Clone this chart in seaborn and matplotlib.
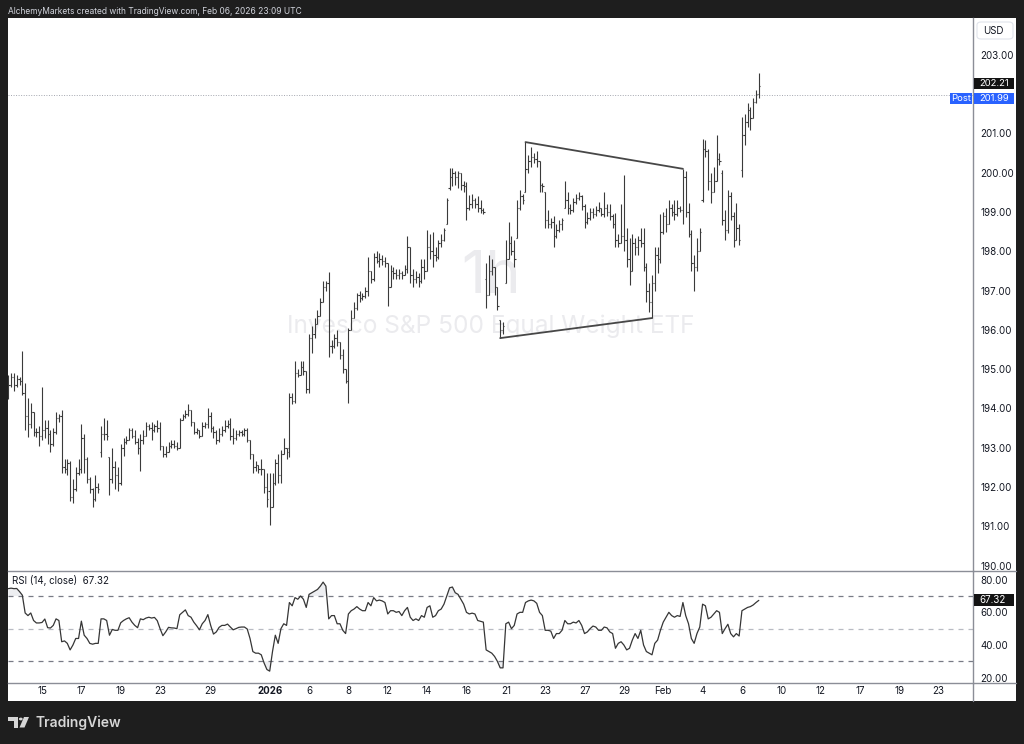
import numpy as np
import matplotlib
matplotlib.use("Agg")
import matplotlib.pyplot as plt
import seaborn as sns
from matplotlib.patches import Rectangle, FancyBboxPatch, Circle, Polygon
from matplotlib.lines import Line2D

# ---------------- data (hourly bars; bar 0 = Dec 15 09:30) ----------------
first_bar = -12

opens = [
    194.70, 194.60, 194.80, 194.60, 194.75,                      # Dec 11
    194.70, 194.40, 193.80, 193.60, 193.90, 193.40, 193.40,      # Dec 12
    193.30, 193.45, 193.50, 193.35, 193.10, 193.40, 193.75,      # Dec 15
    193.80, 192.50, 192.45, 192.60, 191.75, 191.95, 192.35,      # Dec 16
    192.45, 193.25, 192.70, 192.20, 191.95, 191.70, 192.00,      # Dec 17
    192.90, 193.35, 193.35, 192.75, 192.20, 192.50, 192.30,      # Dec 18
    192.10, 193.00, 193.15, 193.20, 193.45, 193.30, 193.15,      # Dec 19
    193.00, 193.20, 193.30, 193.55, 193.50, 193.45, 193.55,      # Dec 22
    193.50, 193.05, 192.85, 192.90, 193.05, 193.10, 193.05,      # Dec 23
    193.00, 193.70, 193.80, 193.85,                              # Dec 24
    193.95, 193.65, 193.40, 193.45, 193.30, 193.55, 193.60,      # Dec 26
    193.80, 193.50, 193.40, 193.20, 193.35, 193.45, 193.55,      # Dec 29
    193.60, 193.30, 193.25, 193.35, 193.40, 193.35, 193.45,      # Dec 30
    193.20, 192.85, 192.50, 192.55, 192.45, 192.45, 192.00,      # Dec 31
    191.90, 191.50, 192.10, 192.60, 192.30, 192.85, 193.00,      # Jan 2
    193.00, 194.30, 194.20, 194.90, 194.85, 195.05, 194.95,      # Jan 5
    194.50, 195.80, 195.90, 196.15, 196.35, 196.70, 197.10,      # Jan 6
    197.20, 195.60, 195.60, 195.80, 195.70, 195.35, 195.00,      # Jan 7
    194.70, 196.00, 196.30, 196.55, 196.90, 196.80, 196.85,      # Jan 8
    197.00, 197.50, 197.30, 197.85, 197.75, 197.80, 197.75,      # Jan 9
    197.70, 197.10, 197.50, 197.45, 197.40, 197.45, 197.40,      # Jan 12
    197.55, 198.10, 197.40, 197.30, 197.35, 197.25, 197.60,      # Jan 13
    197.50, 198.10, 198.00, 197.90, 197.85, 198.20, 198.30,      # Jan 14
    198.70, 199.60, 199.90, 200.00, 199.90, 200.00, 199.70,      # Jan 15
    199.65, 199.10, 199.20, 199.30, 199.20, 199.10, 199.05,      # Jan 16
    197.30, 196.90, 197.50, 197.60, 197.10, 196.25, 196.00,      # Jan 20
    197.20, 197.80, 198.20, 198.00, 198.35, 199.10, 199.40,      # Jan 21
    199.50, 200.10, 200.30, 200.40, 200.35, 200.30, 199.70,      # Jan 22
    199.50, 198.80, 198.70, 198.75, 198.40, 198.55, 198.70,      # Jan 23
    199.10, 199.30, 199.10, 199.05, 199.25, 199.35, 199.40,      # Jan 26
    199.15, 198.75, 198.85, 199.00, 198.95, 199.05, 199.10,      # Jan 27
    198.95, 199.10, 199.00, 198.90, 198.70, 198.30, 198.20,      # Jan 28
    198.40, 198.30, 197.80, 197.50, 198.20, 198.10, 198.30,      # Jan 29
    198.20, 197.60, 197.00, 196.70, 197.20, 197.90, 197.80,      # Jan 30
    198.50, 198.90, 198.70, 199.10, 199.00, 198.95, 199.10,      # Feb 2
    199.05, 199.90, 199.00, 198.45, 197.70, 197.60, 198.00,      # Feb 3
    199.30, 200.60, 200.55, 199.80, 199.50, 199.80, 200.35,      # Feb 4
    200.00, 198.80, 198.55, 199.40, 198.90, 198.30, 198.60,      # Feb 5
    200.07, 200.95, 201.30, 201.60, 201.40, 201.80, 202.00,      # Feb 6
]

highs = [
    194.85, 194.90, 194.90, 194.85, 194.80,
    195.45, 194.65, 194.27, 194.14, 193.90, 193.50, 193.55,
    194.55, 193.70, 193.70, 193.45, 193.50, 193.90, 193.85,
    193.95, 192.70, 192.70, 192.65, 192.20, 192.50, 192.70,
    193.60, 193.35, 192.75, 192.25, 191.97, 192.30, 192.10,
    193.55, 193.75, 193.70, 192.75, 193.00, 192.65, 192.50,
    193.10, 193.25, 193.30, 193.50, 193.50, 193.45, 193.25,
    193.35, 193.45, 193.65, 193.60, 193.65, 193.60, 193.70,
    193.65, 193.05, 193.05, 193.15, 193.20, 193.20, 193.15,
    193.75, 193.85, 193.95, 194.10,
    193.95, 193.65, 193.50, 193.45, 193.65, 193.65, 194.00,
    193.90, 193.55, 193.45, 193.50, 193.55, 193.70, 193.70,
    193.75, 193.50, 193.45, 193.45, 193.45, 193.50, 193.50,
    193.20, 192.85, 192.65, 192.55, 192.70, 192.45, 192.35,
    192.35, 192.35, 192.70, 192.85, 192.95, 193.25, 193.00,
    194.40, 194.40, 195.20, 195.00, 195.20, 195.20, 194.95,
    195.90, 196.10, 196.30, 196.50, 196.80, 197.25, 197.25,
    197.47, 195.75, 195.90, 196.00, 195.70, 195.50, 195.00,
    196.05, 196.50, 196.70, 196.95, 197.00, 196.95, 197.10,
    197.85, 197.50, 197.95, 198.00, 197.95, 197.90, 197.85,
    197.70, 197.65, 197.60, 197.55, 197.55, 197.50, 197.65,
    198.40, 198.10, 197.55, 197.50, 197.45, 197.80, 197.80,
    198.55, 198.45, 198.50, 198.10, 198.30, 198.45, 198.60,
    199.35, 200.12, 200.12, 200.05, 200.05, 200.00, 199.80,
    199.76, 199.43, 199.45, 199.35, 199.40, 199.30, 199.10,
    197.70, 197.90, 197.80, 197.60, 197.10, 196.25, 196.20,
    198.30, 198.75, 198.40, 198.30, 199.30, 199.55, 199.45,
    200.78, 200.45, 200.65, 200.50, 200.55, 200.30, 199.75,
    199.50, 199.05, 198.85, 198.90, 198.70, 198.80, 198.85,
    199.80, 199.50, 199.20, 199.35, 199.45, 199.50, 199.43,
    199.20, 199.00, 199.10, 199.10, 199.15, 199.25, 199.10,
    199.50, 199.20, 199.20, 198.95, 198.97, 198.45, 199.20,
    199.95, 198.60, 198.35, 198.45, 198.35, 198.40, 198.60,
    198.60, 197.70, 197.20, 197.40, 198.10, 198.10, 198.95,
    199.00, 199.10, 199.30, 199.20, 199.30, 199.30, 199.15,
    200.10, 200.05, 199.23, 198.55, 197.90, 198.35, 198.60,
    200.85, 200.84, 200.60, 200.00, 200.15, 200.97, 200.50,
    200.07, 199.05, 199.56, 199.50, 199.00, 199.23, 198.70,
    201.42, 201.50, 201.78, 201.67, 201.90, 202.10, 202.54,
]

lows = [
    194.25, 194.55, 194.45, 194.55, 194.60,
    194.35, 193.45, 193.27, 193.50, 193.30, 193.27, 193.05,
    193.20, 193.25, 193.10, 192.90, 193.05, 193.35, 193.65,
    192.35, 192.35, 192.30, 191.65, 191.60, 191.90, 192.30,
    192.35, 192.35, 192.10, 191.85, 191.50, 191.65, 191.85,
    192.75, 193.20, 193.20, 191.80, 192.10, 191.95, 191.90,
    192.05, 192.80, 193.10, 193.20, 193.25, 193.10, 192.85,
    192.40, 193.10, 193.30, 193.45, 193.20, 193.40, 193.40,
    192.95, 192.75, 192.75, 192.88, 193.00, 193.00, 192.95,
    193.00, 193.70, 193.75, 193.80,
    193.55, 193.35, 193.35, 193.25, 193.30, 193.50, 193.50,
    193.40, 193.25, 193.10, 193.15, 193.30, 193.40, 193.50,
    193.20, 193.10, 193.20, 193.30, 193.30, 193.30, 193.15,
    192.70, 192.35, 192.40, 192.35, 192.30, 191.85, 191.50,
    191.03, 191.50, 192.05, 192.10, 192.10, 192.85, 192.70,
    192.75, 194.10, 194.15, 194.80, 194.85, 194.85, 194.40,
    194.40, 195.40, 195.80, 196.15, 196.35, 196.70, 197.00,
    195.30, 195.40, 195.55, 195.60, 195.25, 194.90, 194.65,
    194.15, 196.00, 196.30, 196.50, 196.70, 196.75, 196.80,
    196.85, 197.20, 197.25, 197.70, 197.60, 197.65, 197.60,
    196.60, 197.10, 197.30, 197.30, 197.30, 197.30, 197.40,
    197.45, 197.20, 197.10, 197.20, 197.10, 197.20, 197.30,
    197.50, 197.80, 197.60, 197.75, 197.80, 198.10, 198.25,
    198.70, 199.56, 199.65, 199.70, 199.60, 199.56, 199.50,
    198.80, 199.05, 199.10, 199.10, 199.00, 198.97, 198.95,
    196.55, 196.90, 197.40, 196.90, 196.50, 195.79, 195.90,
    197.19, 197.80, 197.90, 197.60, 198.35, 199.05, 199.20,
    199.50, 200.00, 200.15, 200.25, 200.15, 199.50, 199.50,
    198.60, 198.60, 198.60, 198.10, 198.35, 198.50, 198.55,
    199.10, 198.95, 198.95, 199.00, 199.20, 199.30, 199.05,
    198.60, 198.70, 198.80, 198.85, 198.90, 199.00, 198.90,
    198.87, 198.90, 198.80, 198.60, 198.10, 198.10, 198.20,
    198.00, 197.60, 197.15, 197.50, 197.90, 197.90, 198.10,
    197.50, 196.70, 196.45, 196.30, 197.00, 197.45, 197.70,
    198.45, 198.50, 198.70, 198.90, 198.80, 198.90, 199.00,
    198.70, 198.87, 198.37, 197.50, 197.00, 197.50, 198.00,
    199.25, 200.40, 199.55, 199.23, 199.50, 199.80, 200.20,
    198.67, 198.30, 198.47, 198.80, 198.10, 198.30, 198.15,
    199.90, 200.70, 201.17, 201.10, 201.40, 201.78, 201.90,
]

closes = [
    194.60, 194.80, 194.60, 194.75, 194.70,
    194.40, 193.80, 193.60, 193.90, 193.40, 193.40, 193.30,
    193.45, 193.50, 193.35, 193.10, 193.40, 193.75, 193.80,
    192.50, 192.45, 192.60, 191.75, 191.95, 192.35, 192.45,
    193.25, 192.70, 192.20, 191.95, 191.70, 192.00, 191.95,
    193.35, 193.35, 193.30, 192.20, 192.50, 192.30, 192.10,
    193.00, 193.15, 193.20, 193.45, 193.30, 193.15, 193.00,
    193.20, 193.30, 193.55, 193.50, 193.45, 193.55, 193.50,
    193.05, 192.85, 192.90, 193.05, 193.10, 193.05, 193.00,
    193.70, 193.80, 193.85, 193.95,
    193.65, 193.40, 193.45, 193.30, 193.55, 193.60, 193.80,
    193.50, 193.40, 193.20, 193.35, 193.45, 193.55, 193.60,
    193.30, 193.25, 193.35, 193.40, 193.35, 193.45, 193.20,
    192.85, 192.50, 192.55, 192.45, 192.45, 192.00, 191.70,
    191.50, 192.10, 192.60, 192.30, 192.85, 193.00, 192.90,
    194.30, 194.20, 194.90, 194.85, 195.05, 194.95, 194.50,
    195.80, 195.90, 196.15, 196.35, 196.70, 197.10, 197.20,
    195.60, 195.60, 195.80, 195.70, 195.35, 195.00, 194.70,
    196.00, 196.30, 196.55, 196.90, 196.80, 196.85, 197.00,
    197.50, 197.30, 197.85, 197.75, 197.80, 197.75, 197.70,
    197.10, 197.50, 197.45, 197.40, 197.45, 197.40, 197.55,
    198.10, 197.40, 197.30, 197.35, 197.25, 197.60, 197.50,
    198.10, 198.00, 197.90, 197.85, 198.20, 198.30, 198.55,
    199.30, 199.90, 200.00, 199.90, 200.00, 199.70, 199.65,
    199.10, 199.20, 199.30, 199.20, 199.10, 199.05, 199.00,
    196.90, 197.50, 197.60, 197.10, 196.60, 196.00, 196.10,
    197.80, 198.20, 198.00, 197.80, 199.10, 199.40, 199.30,
    200.10, 200.30, 200.40, 200.35, 200.30, 199.70, 199.65,
    198.80, 198.70, 198.75, 198.40, 198.55, 198.70, 198.80,
    199.30, 199.10, 199.05, 199.25, 199.35, 199.40, 199.15,
    198.75, 198.85, 199.00, 198.95, 199.05, 199.10, 198.95,
    199.10, 199.00, 198.90, 198.70, 198.30, 198.20, 198.40,
    198.30, 197.80, 197.50, 198.20, 198.10, 198.30, 198.20,
    197.60, 197.00, 196.70, 197.20, 197.90, 197.80, 198.50,
    198.90, 198.70, 199.10, 199.00, 198.95, 199.10, 199.05,
    199.90, 199.00, 198.45, 197.70, 197.60, 198.00, 198.50,
    200.60, 200.55, 199.80, 199.50, 199.80, 200.35, 200.30,
    198.80, 198.55, 199.40, 198.90, 198.30, 198.60, 198.30,
    200.95, 201.30, 201.60, 201.40, 201.80, 202.00, 202.21,
]

rsi = [
    74.5, 74.8, 74.5, 74.6, 72.7,
    70.5, 59.6, 58.0, 59.6, 55.0, 53.5, 53.5,
    53.8, 55.9, 50.6, 50.4, 52.0, 56.0, 55.0,
    42.0, 42.5, 41.0, 37.0, 40.0, 44.0, 44.0,
    54.6, 46.0, 44.0, 41.0, 40.5, 41.0, 41.0,
    56.0, 56.0, 55.0, 46.0, 49.5, 49.0, 49.0,
    53.6, 55.0, 56.0, 56.7, 54.0, 52.0, 50.6,
    56.0, 55.5, 56.5, 57.0, 56.5, 56.9, 54.9,
    50.0, 45.7, 48.0, 50.8, 50.5, 50.4, 50.0,
    58.5, 60.0, 61.5, 58.0,
    57.0, 54.0, 51.8, 49.3, 53.0, 55.0, 58.6,
    52.0, 46.7, 48.0, 50.8, 52.0, 52.0, 52.8,
    51.0, 49.3, 50.0, 50.8, 51.0, 51.0, 49.8,
    44.0, 36.0, 35.0, 35.0, 34.0, 29.0, 25.0,
    24.0, 36.0, 46.0, 41.0, 50.0, 53.0, 52.0,
    66.0, 64.0, 69.0, 68.0, 70.0, 68.0, 63.0,
    71.0, 72.0, 73.0, 74.0, 76.0, 78.5, 76.0,
    56.0, 58.0, 58.0, 53.0, 53.0, 49.0, 47.0,
    59.0, 61.0, 62.0, 63.5, 62.0, 61.0, 61.0,
    66.0, 64.0, 69.0, 67.0, 67.5, 67.0, 66.0,
    59.0, 61.0, 61.0, 60.0, 60.5, 58.0, 61.0,
    63.0, 57.0, 55.0, 56.0, 55.0, 58.0, 57.0,
    63.0, 64.0, 57.0, 58.0, 61.0, 62.0, 65.0,
    70.0, 75.0, 75.5, 72.0, 71.0, 68.0, 65.0,
    60.0, 59.0, 59.5, 59.0, 55.0, 54.5, 54.0,
    37.0, 36.0, 35.0, 33.0, 30.0, 26.0, 26.0,
    53.0, 54.0, 50.0, 52.0, 59.0, 60.0, 60.0,
    66.0, 67.0, 67.5, 67.0, 65.5, 60.0, 58.0,
    49.0, 49.0, 48.5, 44.0, 47.0, 47.0, 49.0,
    55.0, 53.0, 53.0, 54.0, 53.5, 55.0, 52.0,
    47.0, 48.0, 50.0, 51.6, 51.0, 49.0, 49.0,
    51.0, 50.5, 48.0, 47.0, 38.0, 41.0, 42.0,
    40.0, 37.0, 38.0, 43.0, 47.0, 44.0, 49.0,
    40.0, 36.0, 35.0, 34.0, 41.0, 43.0, 49.0,
    54.0, 57.0, 60.0, 58.0, 57.0, 58.0, 57.5,
    66.0, 58.0, 53.0, 44.0, 41.0, 47.0, 51.0,
    65.0, 64.0, 56.0, 57.0, 59.0, 61.0, 60.0,
    47.0, 50.0, 52.7, 47.0, 45.0, 47.0, 45.5,
    61.0, 62.0, 63.0, 63.5, 64.5, 66.0, 67.32,
]

tick_bars = [0, 14, 28, 42, 60, 81, 95, 109, 123, 137, 151, 165, 179,
             193, 207, 221, 235, 249, 263, 277, 291, 305, 319]
tick_labels = ["15", "17", "19", "23", "29", "2026", "6", "8", "12", "14", "16",
               "21", "23", "27", "29", "Feb", "4", "6", "10", "12", "17", "19", "23"]

wedge_upper_bars = [172, 228]
wedge_upper_prices = [200.78, 200.10]
wedge_lower_bars = [163, 217]
wedge_lower_prices = [195.79, 196.30]

# 202.00 is hidden behind the last-price / post-market labels, as in TradingView
price_ticks = [190, 191, 192, 193, 194, 195, 196, 197, 198, 199, 200, 201, 203]
rsi_ticks = [20, 40, 60, 80]
rsi_upper, rsi_mid, rsi_lower = 70, 50, 30
last_price = 202.21
post_price = 201.99
last_rsi = 67.32
currency = "USD"
symbol_name = "Invesco S&P 500 Equal Weight ETF"
interval = "1h"
header = "AlchemyMarkets created with TradingView.com, Feb 06, 2026 23:09 UTC"
rsi_title = "RSI (14, close)"

# ---------------- figure ----------------
W, H = 1024, 744
sns.set_theme(style="white")
plt.rcParams["font.family"] = ["Inter", "DejaVu Sans"]

fig = plt.figure(figsize=(W / 100, H / 100), dpi=100, facecolor="#1e1e1e")


def fx(px):
    return px / W


def fy(py):
    return 1 - py / H


def frect(x0, y0, x1, y1, **kw):
    r = Rectangle((fx(x0), fy(y1)), (x1 - x0) / W, (y1 - y0) / H,
                  transform=fig.transFigure, **kw)
    fig.add_artist(r)
    return r


frect(8, 18, 1016, 701, facecolor="white", edgecolor="none", zorder=-5)

PL, PR, PT, PB, RB = 8, 973, 18, 571, 683
ax = fig.add_axes([fx(PL), fy(PB), (PR - PL) / W, (PB - PT) / H])
axr = fig.add_axes([fx(PL), fy(RB), (PR - PL) / W, (RB - PB) / H])
XMIN, XMAX = -12.1, 331.2
SPINE = "#8b8e97"
for a in (ax, axr):
    a.set_facecolor("none")
    a.spines["top"].set_visible(False)
    a.spines["left"].set_visible(False)
    for s in ("right", "bottom"):
        a.spines[s].set_color(SPINE)
        a.spines[s].set_linewidth(1.0)
    a.set_xlim(XMIN, XMAX)
    a.grid(False)

# extend separators across price scale
for yy in (PB, RB):
    fig.add_artist(Line2D([fx(PR), fx(1016)], [fy(yy), fy(yy)], transform=fig.transFigure,
                          color=SPINE, lw=1.0))
fig.add_artist(Line2D([fx(PR), fx(PR)], [fy(RB), fy(701)], transform=fig.transFigure,
                      color=SPINE, lw=1.0))


def axfrac(a, px, py):
    bb = a.get_position()
    x0, x1 = bb.x0 * W, bb.x1 * W
    y0, y1 = (1 - bb.y1) * H, (1 - bb.y0) * H
    return (px - x0) / (x1 - x0), 1 - (py - y0) / (y1 - y0)


# ---------------- price pane ----------------
idx = np.arange(first_bar, first_bar + len(closes))
o = np.array(opens); h = np.array(highs); l = np.array(lows); c = np.array(closes)
BAR = "#3a3a3a"
ax.vlines(idx, l, h, color=BAR, lw=0.8, zorder=4)
ax.hlines(o, idx - 0.45, idx, color=BAR, lw=0.8, zorder=4)
ax.hlines(c, idx, idx + 0.45, color=BAR, lw=0.8, zorder=4)

ax.plot(wedge_upper_bars, wedge_upper_prices, color="#474747", lw=1.3, zorder=5,
        solid_capstyle="round")
ax.plot(wedge_lower_bars, wedge_lower_prices, color="#474747", lw=1.3, zorder=5,
        solid_capstyle="round")

ax.axhline(post_price, color="#a3a6af", lw=0.7, ls=(0, (1, 1.6)), zorder=2)

ax.set_ylim(189.86, 203.94)
ax.yaxis.tick_right()
ax.set_yticks(price_ticks)
ax.set_yticklabels([f"{v:.2f}" for v in price_ticks])
ax.tick_params(axis="y", length=0, pad=5.5, labelsize=7, labelcolor="#131722")
ax.set_xticks([])

# watermark
wx, wy = axfrac(ax, 491, 277)
ax.text(wx, wy, interval, transform=ax.transAxes, ha="center", va="center",
        fontsize=43, color="#ebebee", zorder=1)
wx, wy = axfrac(ax, 491, 326)
ax.text(wx, wy, symbol_name, transform=ax.transAxes, ha="center", va="center",
        fontsize=17.6, color="#ebebee", zorder=1)

# ---------------- RSI pane ----------------
r = np.array(rsi)
axr.fill_between(idx, r, rsi_upper, where=r >= rsi_upper, interpolate=True,
                 color="#e1e3e8", alpha=0.6, lw=0, zorder=1)
axr.fill_between(idx, r, rsi_lower, where=r <= rsi_lower, interpolate=True,
                 color="#e1e3e8", alpha=0.6, lw=0, zorder=1)
axr.axhline(rsi_upper, color="#787b86", lw=0.9, ls=(0, (4, 4)), zorder=2)
axr.axhline(rsi_mid, color="#b8bbc3", lw=0.9, ls=(0, (4, 4)), zorder=2)
axr.axhline(rsi_lower, color="#787b86", lw=0.9, ls=(0, (4, 4)), zorder=2)
sns.lineplot(x=idx, y=r, ax=axr, color="#363636", lw=0.9, zorder=3, legend=False)
axr.set_xlabel("")
axr.set_ylabel("")
axr.set_xlim(XMIN, XMAX)
axr.set_ylim(16.74, 85.3)
axr.yaxis.tick_right()
axr.set_yticks(rsi_ticks)
axr.set_yticklabels([f"{v:.2f}" for v in rsi_ticks])
axr.tick_params(axis="y", length=0, pad=5.5, labelsize=7, labelcolor="#131722")
axr.set_xticks(tick_bars)
axr.set_xticklabels(tick_labels)
axr.tick_params(axis="x", length=0, pad=2.5, labelsize=7, labelcolor="#131722")
for lab in axr.get_xticklabels():
    if lab.get_text() == "2026":
        lab.set_fontweight("bold")

tx, ty = axfrac(axr, 12, 581)
axr.text(tx, ty, f"{rsi_title}  {last_rsi:.2f}", transform=axr.transAxes, ha="left",
         va="center", fontsize=7, color="#131722", zorder=6)


# ---------------- labels on price scale ----------------
def ypx(a, v):
    return H - a.transData.transform((0, v))[1]


yl = ypx(ax, last_price) - 2.5
yp = ypx(ax, post_price) + 3.5
frect(974, yl - 5.5, 1014, yl + 5.5, facecolor="#131313", edgecolor="none", zorder=8)
fig.text(fx(979), fy(yl), f"{last_price:.2f}", color="white", fontsize=6.8,
         va="center", ha="left", zorder=9)
frect(974, yp - 5.5, 1014, yp + 5.5, facecolor="#2962ff", edgecolor="none", zorder=8)
fig.text(fx(979), fy(yp), f"{post_price:.2f}", color="white", fontsize=6.8,
         va="center", ha="left", zorder=9)
frect(950, yp - 5.5, 972, yp + 5.5, facecolor="#2962ff", edgecolor="none", zorder=8)
fig.text(fx(961), fy(yp), "Post", color="white", fontsize=6.8, va="center",
         ha="center", zorder=9)

yr = ypx(axr, last_rsi)
frect(974, yr - 6, 1014, yr + 6, facecolor="#131313", edgecolor="none", zorder=8)
fig.text(fx(979), fy(yr), f"{last_rsi:.2f}", color="white", fontsize=7,
         va="center", ha="left", zorder=9)

usd = FancyBboxPatch((fx(977), fy(39)), (1013 - 977) / W, (39 - 22) / H,
                     boxstyle="round,pad=0,rounding_size=0.004",
                     transform=fig.transFigure, facecolor="white",
                     edgecolor="#e0e3eb", lw=0.8, zorder=8)
fig.add_artist(usd)
fig.text(fx(993), fy(30.5), currency, color="#131722", fontsize=7, va="center",
         ha="center", zorder=9)

# ---------------- header & footer ----------------
fig.text(fx(8), fy(11), header, color="#d1d4dc", fontsize=6.05, va="center", ha="left")

LOGO = "#d6d6d6"
fig.add_artist(Polygon([(fx(8), fy(717)), (fx(18), fy(717)), (fx(18), fy(727.5)),
                        (fx(13.5), fy(727.5)), (fx(13.5), fy(721)), (fx(8), fy(721))],
                       closed=True, transform=fig.transFigure, facecolor=LOGO,
                       edgecolor="none"))
fig.add_artist(Circle((fx(20.8), fy(719)), 1.9 / W, transform=fig.transFigure,
                      facecolor=LOGO, edgecolor="none"))
fig.add_artist(Polygon([(fx(24), fy(717)), (fx(29), fy(717)), (fx(24.5), fy(727.5)),
                        (fx(19.5), fy(727.5))], closed=True, transform=fig.transFigure,
                       facecolor=LOGO, edgecolor="none"))
fig.text(fx(35), fy(722.5), "TradingView", color=LOGO, fontsize=10,
         fontweight="semibold", va="center", ha="left")

fig.savefig("out.png", dpi=100, facecolor=fig.get_facecolor())
